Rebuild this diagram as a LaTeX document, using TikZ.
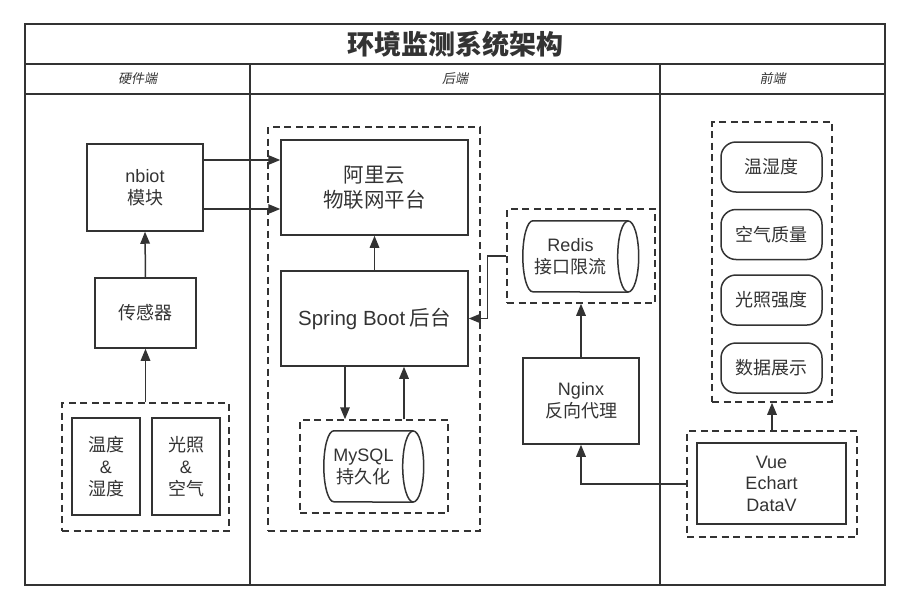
\documentclass[tikz,border=0pt]{standalone}
\usepackage{fontspec}
\setmainfont{Noto Sans CJK SC}
\newfontfamily\lat{Liberation Sans}
\newfontfamily\cjkit[FakeSlant=0.2]{Noto Sans CJK SC}
\usetikzlibrary{arrows.meta}
\definecolor{ink}{HTML}{333333}
\tikzset{
  frame/.style={draw=ink, line width=2pt},
  box/.style={draw=ink, line width=1.5pt, inner sep=0pt, align=center, text=ink,
    font=\fontsize{18}{22}\selectfont},
  bigbox/.style={box, font=\fontsize{20.5}{25}\selectfont},
  grp/.style={draw=ink, line width=1.5pt, dash pattern=on 7pt off 4.5pt, inner sep=0pt},
  rbox/.style={box, rounded corners=15pt},
  cyltext/.style={inner sep=0pt, align=center, text=ink, font=\fontsize{18}{22}\selectfont},
  cylline/.style={draw=ink, line width=1.5pt},
  arr/.style={draw=ink, line width=1.5pt, -{Triangle[length=12pt,width=9.5pt]}},
  hdr/.style={text=ink, font=\fontsize{13}{15}\selectfont\cjkit},
}
\begin{document}
\begin{tikzpicture}[x=1pt,y=-1pt]
\useasboundingbox (0,0) rectangle (910,610);
% frame
\draw[frame] (25,24) rectangle (885,585);
\draw[frame] (25,64) -- (885,64);
\draw[frame] (25,94) -- (885,94);
\draw[frame] (250,64) -- (250,585);
\draw[frame] (660,64) -- (660,585);
\node[text=ink, font=\fontsize{27}{30}\selectfont\bfseries] (title) at (455,44) {环境监测系统架构};
\node[hdr] (h1) at (137.5,79) {硬件端};
\node[hdr] (h2) at (455,79) {后端};
\node[hdr] (h3) at (772.5,79) {前端};

% hardware
\node[box, minimum width=116pt, minimum height=87pt] (nbiot) at (145,187.5) {{\lat nbiot}\\模块};
\node[box, minimum width=101pt, minimum height=70pt] (sensor) at (145.5,313) {传感器};
\node[grp, minimum width=167pt, minimum height=128pt] (hwgrp) at (145.5,467) {};
\node[box, minimum width=68pt, minimum height=97pt] (th) at (106,466.5) {温度\\{\lat\&}\\湿度};
\node[box, minimum width=68pt, minimum height=97pt] (la) at (186,466.5) {光照\\{\lat\&}\\空气};

% backend
\node[grp, minimum width=212pt, minimum height=404pt] (begrp) at (374,329) {};
\node[bigbox, minimum width=187pt, minimum height=95pt] (aliyun) at (374.5,187.5) {阿里云\\物联网平台};
\node[bigbox, minimum width=187pt, minimum height=95pt] (spring) at (374.5,318.5) {{\lat Spring Boot} 后台};
\node[grp, minimum width=148pt, minimum height=93pt] (mysqlgrp) at (374,466.5) {};
\node[cyltext, minimum width=79pt, minimum height=71pt] (mysql) at (363.5,466.5) {{\lat MySQL}\\持久化};
\draw[cylline] ([xshift=10pt]mysql.north east) -- ([xshift=10pt]mysql.north west)
  arc[start angle=90, end angle=270, x radius=10pt, y radius=35.5pt]
  -- ([xshift=10pt]mysql.south east);
\draw[cylline] ([xshift=10pt]mysql.east) ellipse [x radius=10.5pt, y radius=35.5pt];

\node[grp, minimum width=148pt, minimum height=94pt] (redisgrp) at (581,256) {};
\node[cyltext, minimum width=95pt, minimum height=71pt] (redis) at (570.5,256.5) {{\lat Redis}\\接口限流};
\draw[cylline] ([xshift=10pt]redis.north east) -- ([xshift=10pt]redis.north west)
  arc[start angle=90, end angle=270, x radius=10pt, y radius=35.5pt]
  -- ([xshift=10pt]redis.south east);
\draw[cylline] ([xshift=10pt]redis.east) ellipse [x radius=10.5pt, y radius=35.5pt];

\node[box, minimum width=116pt, minimum height=86pt] (nginx) at (581,401) {{\lat Nginx}\\反向代理};

% frontend
\node[grp, minimum width=120pt, minimum height=280pt] (fegrp) at (772,262) {};
\node[rbox, minimum width=101pt, minimum height=50pt] (r1) at (771.5,167) {温湿度};
\node[rbox, minimum width=101pt, minimum height=50pt] (r2) at (771.5,234.5) {空气质量};
\node[rbox, minimum width=101pt, minimum height=50pt] (r3) at (771.5,300) {光照强度};
\node[rbox, minimum width=101pt, minimum height=50pt] (r4) at (771.5,368) {数据展示};
\node[grp, minimum width=170pt, minimum height=106pt] (vuegrp) at (772,484) {};
\node[box, minimum width=149pt, minimum height=81pt, font=\fontsize{18}{21.5}\selectfont\lat] (vue) at (771.5,483.5) {Vue\\Echart\\DataV};

% connectors
\draw[arr] ([yshift=27.5pt]nbiot.east) -- ([yshift=27.5pt]nbiot.east -| aliyun.west);
\draw[arr] ([yshift=-21.5pt]nbiot.east) -- ([yshift=-21.5pt]nbiot.east -| aliyun.west);
\draw[arr] (sensor.north) -- (nbiot.south);
\draw[arr] (hwgrp.north) -- (sensor.south);
\draw[arr] (spring.north) -- (aliyun.south);
\draw[arr] ([xshift=-29.5pt]spring.south) -- ([xshift=-29.5pt]spring.south |- mysqlgrp.north);
\draw[arr] ([xshift=29.5pt]spring.south |- mysqlgrp.north) -- ([xshift=29.5pt]spring.south);
\draw[arr] (redisgrp.west) -- ++(-19,0) |- (spring.east);
\draw[arr] (nginx.north) -- (redisgrp.south);
\draw[arr] (vuegrp.west) -| (nginx.south);
\draw[arr] (vuegrp.north) -- (fegrp.south);
\end{tikzpicture}
\end{document}
